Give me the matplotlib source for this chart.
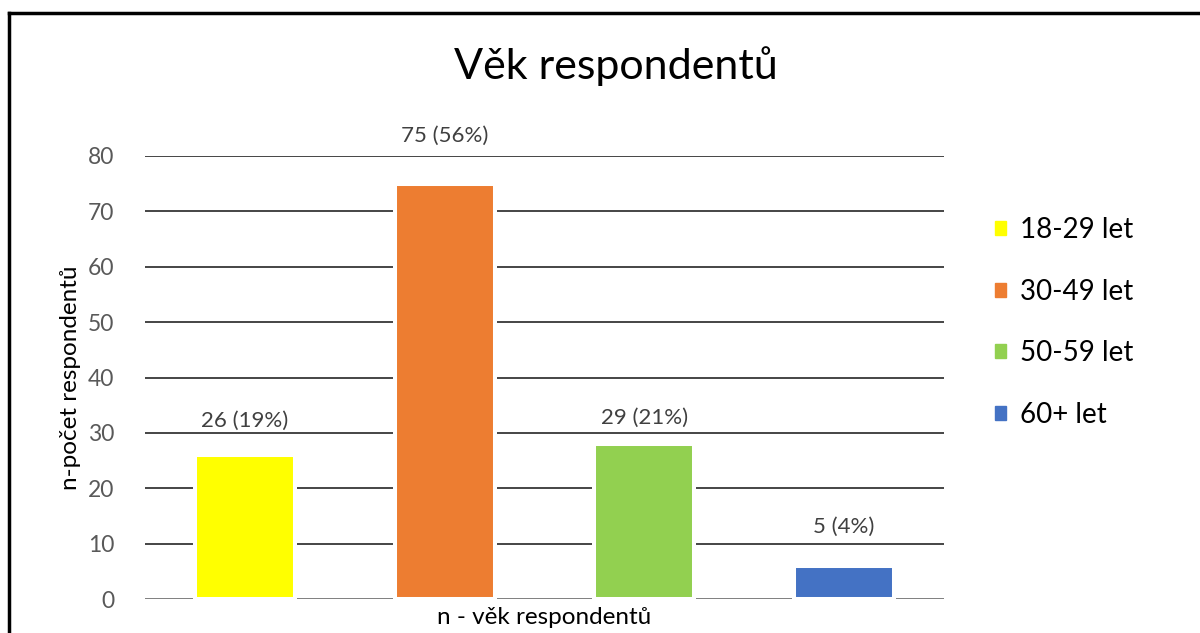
import matplotlib
matplotlib.use("Agg")
import matplotlib.pyplot as plt
from matplotlib.lines import Line2D
from matplotlib.patches import Patch

categories = ["18-29 let", "30-49 let", "50-59 let", "60+ let"]
bar_values = [26, 75, 28, 6]
label_counts = [26, 75, 29, 5]
label_percents = [19, 56, 21, 4]
colors = ["#FFFF00", "#ED7D31", "#92D050", "#4472C4"]
yticks = [0, 10, 20, 30, 40, 50, 60, 70, 80]

label_offsets = [6.1, 8.6, 4.7, 7.0]  # label position above bar (data units)

plt.rcParams['font.family'] = ['Lato', 'DejaVu Sans']

fig = plt.figure(figsize=(12, 6.33), dpi=100)
W, H = 1200, 633
ax = fig.add_axes([145 / W, 1 - 599 / H, (944 - 145) / W, (599 - 156) / H])

x = list(range(len(categories)))
ax.set_xlim(-0.5, len(categories) - 0.5)
ax.set_ylim(0, 80)
for v in yticks[1:]:
    ax.axhline(v, color="#262626", lw=1.2, zorder=1)
ax.axhline(0, color="#595959", lw=1.8, zorder=1)

bars = ax.bar(x, bar_values, width=0.5, color=colors, edgecolor="white",
              linewidth=2.9, zorder=3)
for xi, v, c, p, off in zip(x, bar_values, label_counts, label_percents, label_offsets):
    ax.text(xi, v + off, f"{c} ({p}%)", ha="center", va="center",
            fontsize=16, color="#404040", zorder=4)

ax.set_yticks(yticks)
ax.set_yticklabels([str(t) for t in yticks], fontsize=16.5, color="#595959")
ax.tick_params(axis="y", length=0, pad=22)
ax.set_xticks([])
for s in ax.spines.values():
    s.set_visible(False)

ax.set_ylabel("n-počet respondentů", fontsize=17.5, color="black", labelpad=5)
ax.set_xlabel("n - věk respondentů", fontsize=17.5, color="black", labelpad=6)

fig.text(616 / W, 1 - 66 / H, "Věk respondentů", ha="center", va="center",
         fontsize=31, color="black")

handles = [Patch(facecolor=c, edgecolor=c) for c in colors]
leg = fig.legend(handles, categories, loc="upper left",
                 bbox_to_anchor=(970 / W, 1 - 192 / H), frameon=False,
                 fontsize=20, handlelength=0.4, handleheight=0.4,
                 handletextpad=0.5, labelspacing=1.28)

# frame (cropped chart border)
fig.add_artist(Line2D([9 / W, 1.0], [1 - 13 / H, 1 - 13 / H], color="black", lw=2.5,
                      transform=fig.transFigure))
fig.add_artist(Line2D([9 / W, 9 / W], [0, 1 - 13 / H], color="black", lw=2.5,
                      transform=fig.transFigure))

fig.savefig("out.png", dpi=100, facecolor="white")
